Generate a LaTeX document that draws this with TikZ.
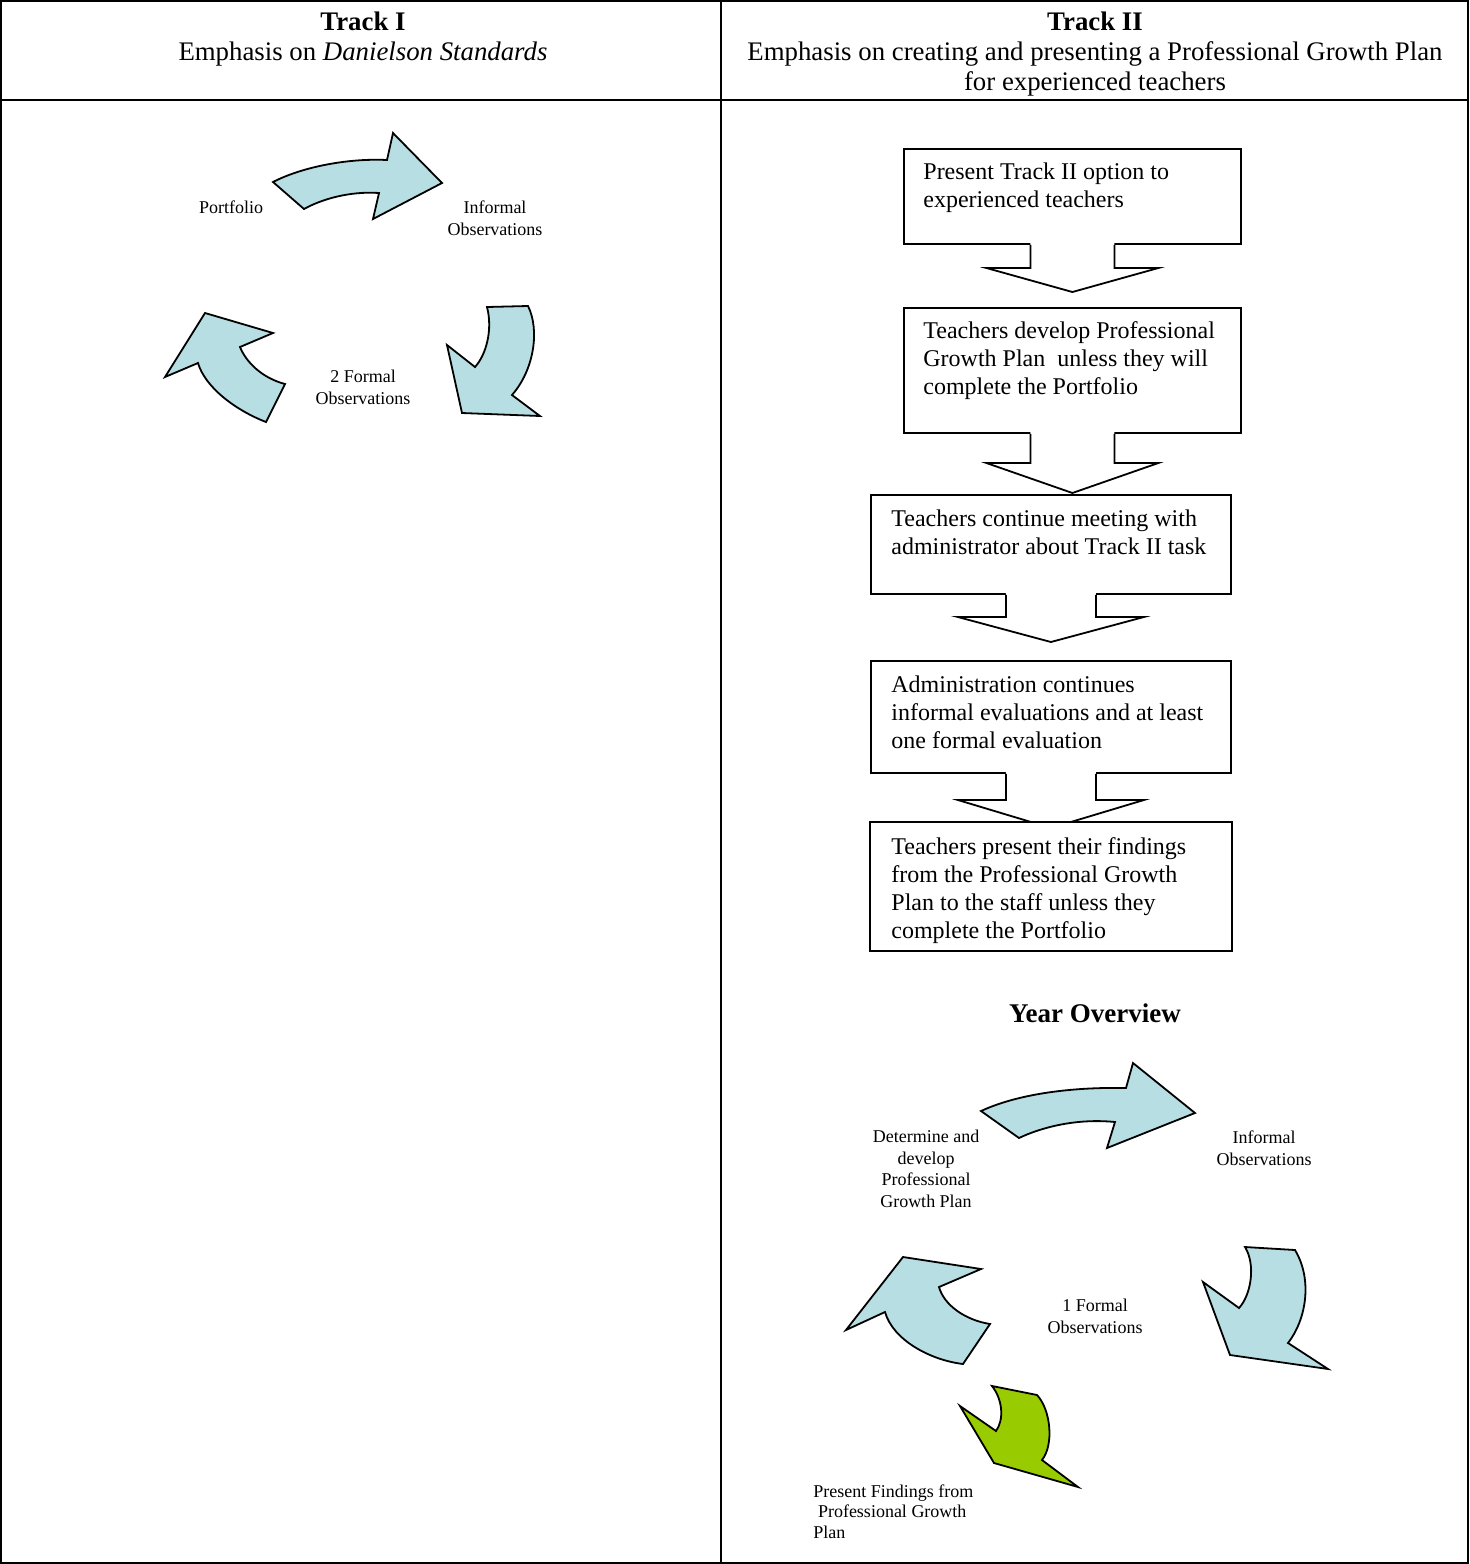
\documentclass[tikz,border=0pt]{standalone}
\usepackage{fontspec}
\setmainfont{Liberation Serif}
\usetikzlibrary{calc}
\definecolor{cycblue}{RGB}{183,222,226}
\definecolor{cycgreen}{RGB}{153,204,0}
% #1 from, #2 to, #3 tip offset from target top, #4 head length, #5 shaft half width, #6 head half width, #7 name
\newcommand\blockdown[7]{%
  \coordinate (#7tip) at ($(#1.south |- #2.north)+(0,#3)$);
  \coordinate (#7hb) at ($(#7tip)+(0,-#4)$);
  \fill[white] ($(#1.south)+(-#5,-3)$) -- ($(#7hb)+(-#5,0)$) -- ($(#7hb)+(-#6,0)$) -- (#7tip) -- ($(#7hb)+(#6,0)$) -- ($(#7hb)+(#5,0)$) -- ($(#1.south)+(#5,-3)$) -- cycle;
  \draw[blkline] ($(#1.south)+(-#5,0)$) -- ($(#7hb)+(-#5,0)$) -- ($(#7hb)+(-#6,0)$) -- (#7tip) -- ($(#7hb)+(#6,0)$) -- ($(#7hb)+(#5,0)$) -- ($(#1.south)+(#5,0)$);
}
\begin{document}
\begin{tikzpicture}[x=0.5pt,y=-0.5pt,
  frameline/.style={line width=0.9pt},
  blkline/.style={line width=0.9pt, line join=miter},
  box/.style={draw, line width=0.9pt, fill=white, anchor=north west, inner sep=0pt},
  boxtext/.style={anchor=base west, inner sep=0pt, align=left, font=\fontsize{12}{14}\selectfont},
  hdr/.style={anchor=base, inner sep=0pt, align=center, font=\fontsize{13.4}{15}\selectfont},
  lbl/.style={anchor=base, inner sep=0pt, align=center, font=\fontsize{9}{10.75}\selectfont},
  lblleft/.style={anchor=base west, inner sep=0pt, align=left, font=\fontsize{9}{10.25}\selectfont},
  cycarrow/.style={draw, fill=cycblue, line width=0.9pt, line join=miter},
  greenarrow/.style={draw, fill=cycgreen, line width=0.9pt, line join=miter}]
\useasboundingbox (0,0) rectangle (1469,1564);

% table
\draw[frameline] (1,1) rectangle (1468,1563);
\draw[frameline] (1,100) -- (1468,100);
\draw[frameline] (721,1) -- (721,1563);

% headers (anchored at the baseline of their last line)
\node[hdr] (h1) at (363,60) {\textbf{Track I}\\Emphasis on \textit{Danielson Standards}};
\node[hdr] (h2) at (1095,90) {\textbf{Track II}\\Emphasis on creating and presenting a Professional Growth Plan\\for experienced teachers};

% Track I cycle
\path[cycarrow] (273,182) .. controls (300,168) and (345,158) .. (387,160)
  -- (393,133) -- (442,183) -- (373,219) -- (379,193)
  .. controls (350,191) and (322,199) .. (304,209) -- cycle;
\path[cycarrow] (528,306) .. controls (540,330) and (534,370) .. (512,395)
  -- (540,416) -- (462,413) -- (447,345) -- (475,367)
  .. controls (486,355) and (493,330) .. (487,307) -- cycle;
\path[cycarrow] (266,422) .. controls (235,410) and (205,387) .. (198,363)
  -- (165,377) -- (205,313) -- (273,333) -- (240,347)
  .. controls (246,362) and (262,378) .. (285,384) -- cycle;
\node[lbl] (t1port) at (231,213) {Portfolio};
\node[lbl] (t1inf) at (495,235) {Informal\\Observations};
\node[lbl] (t1form) at (363,404) {2 Formal\\Observations};

% Track II flow boxes
\node[box, minimum width=168.5pt, minimum height=47.5pt] (b1) at (903,148) {};
\node[box, minimum width=168.5pt, minimum height=62.5pt] (b2) at (903,307) {};
\node[box, minimum width=180pt, minimum height=49.5pt] (b3) at (870,494) {};
\node[box, minimum width=180pt, minimum height=56pt] (b4) at (870,660) {};
\node[box, minimum width=180pt, minimum height=63.5pt] (b5) at (870,822) {};

% block arrows between boxes
\blockdown{b1}{b2}{-15}{24}{42}{86}{ar1}
\blockdown{b2}{b3}{-1}{30}{42}{86}{ar2}
\blockdown{b3}{b4}{-18}{25}{45}{93}{ar3}
\blockdown{b4}{b5}{6}{28}{45}{93}{ar4}
\path[draw, fill=white, line width=0.9pt] (b5.north west) rectangle (b5.south east);

% box texts (anchored at the baseline of their last line)
\node[boxtext] (b1t) at (923,207) {Present Track II option to\\experienced teachers};
\node[boxtext] (b2t) at (923,394) {Teachers develop Professional\\Growth Plan \ unless they will\\complete the Portfolio};
\node[boxtext] (b3t) at (891,554) {Teachers continue meeting with\\administrator about Track II task};
\node[boxtext] (b4t) at (891,748) {Administration continues\\informal evaluations and at least\\one formal evaluation};
\node[boxtext] (b5t) at (891,938) {Teachers present their findings\\from the Professional Growth\\Plan to the staff unless they\\complete the Portfolio};

% Year overview
\node[anchor=base, inner sep=0pt, font=\fontsize{13.5}{15}\selectfont\bfseries] (yo) at (1095,1022) {Year Overview};

\path[cycarrow] (981,1111) .. controls (1020,1093) and (1075,1087) .. (1126,1088)
  -- (1133,1063) -- (1195,1113) -- (1107,1148) -- (1115,1122)
  .. controls (1075,1118) and (1040,1128) .. (1019,1138) -- cycle;
\path[cycarrow] (1295,1250) .. controls (1313,1280) and (1306,1320) .. (1288,1343)
  -- (1328,1369) -- (1230,1355) -- (1203,1282) -- (1239,1308)
  .. controls (1251,1295) and (1256,1265) .. (1245,1247) -- cycle;
\path[cycarrow] (963,1364) .. controls (930,1360) and (893,1340) .. (885,1312)
  -- (846,1330) -- (903,1257) -- (981,1269) -- (939,1287)
  .. controls (944,1305) and (965,1320) .. (990,1324) -- cycle;
\path[greenarrow] (1037,1395) .. controls (1051,1410) and (1054,1445) .. (1042,1460)
  -- (1078,1487) -- (994,1463) -- (960,1406) -- (996,1431)
  .. controls (1004,1420) and (1003,1400) .. (992,1386) -- cycle;

\node[lbl] (yodet) at (926,1207) {Determine and\\develop\\Professional\\Growth Plan};
\node[lbl] (yoinf) at (1264,1165) {Informal\\Observations};
\node[lbl] (yoform) at (1095,1333) {1 Formal\\Observations};
\node[lblleft] (yopres) at (813,1538) {Present Findings from\\\hspace*{2.3pt}Professional Growth\\Plan};
\end{tikzpicture}
\end{document}
